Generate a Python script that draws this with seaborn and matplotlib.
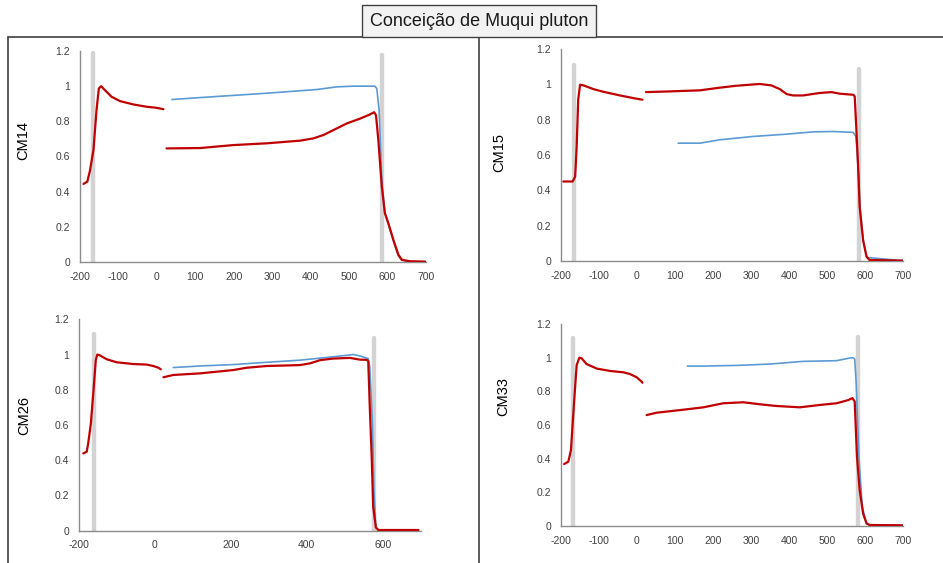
import matplotlib
matplotlib.use("Agg")
import matplotlib.pyplot as plt
import seaborn as sns
import numpy as np
from matplotlib.lines import Line2D

sns.set_theme(style="white")
plt.rcParams['font.family'] = ['Liberation Sans', 'DejaVu Sans']

RED = "#C00000"
BLUE = "#5B9BD5"
BAND = "#D3D3D3"

title = "Conceição de Muqui pluton"
panel_names = ["CM14", "CM15", "CM26", "CM33"]
y_ticks = [0, 0.2, 0.4, 0.6, 0.8, 1.0, 1.2]
y_ticklabels = ["0", "0.2", "0.4", "0.6", "0.8", "1", "1.2"]
x_ticks_100 = [-200, -100, 0, 100, 200, 300, 400, 500, 600, 700]
x_ticks_200 = [-200, 0, 200, 400, 600]

# ---- CM14 ----
cm14_redA_x = [-191, -181, -174, -165, -157, -151, -145, -135, -118, -96, -61, -27, -1, 17]
cm14_redA_y = [0.444, 0.457, 0.52, 0.637, 0.864, 0.987, 1.0, 0.977, 0.94, 0.915, 0.896, 0.883, 0.877, 0.869]
cm14_redB_x = [25, 112, 199, 286, 372, 407, 433, 459, 494, 528, 554, 565, 570, 576, 585, 593, 602, 615, 628, 637, 658, 698]
cm14_redB_y = [0.646, 0.648, 0.665, 0.675, 0.69, 0.703, 0.722, 0.75, 0.788, 0.815, 0.839, 0.852, 0.835, 0.694, 0.429, 0.278, 0.221, 0.127, 0.042, 0.013, 0.004, 0.002]
cm14_blue_x = [39, 112, 286, 416, 468, 511, 567, 572, 578, 585, 593, 602, 615, 628, 637, 658, 698]
cm14_blue_y = [0.924, 0.935, 0.96, 0.981, 0.996, 1.0, 1.0, 0.987, 0.864, 0.467, 0.28, 0.215, 0.12, 0.035, 0.01, 0.003, 0.002]
cm14_bands_x = [-165, 585]
cm14_bands_top = [1.19, 1.175]

# ---- CM15 ----
cm15_redA_x = [-193, -168.5, -162, -158, -154, -149, -140, -114, -88, -44, -9, 15]
cm15_redA_y = [0.45, 0.45, 0.478, 0.648, 0.913, 0.998, 0.994, 0.973, 0.958, 0.937, 0.922, 0.913]
cm15_redB_x = [24, 87, 166, 218, 262, 323, 354, 376, 394, 411, 437, 481, 512, 534, 569, 573, 577, 582, 586, 595, 604, 612, 700]
cm15_redB_y = [0.956, 0.96, 0.966, 0.981, 0.992, 1.002, 0.994, 0.973, 0.945, 0.937, 0.937, 0.951, 0.956, 0.947, 0.941, 0.932, 0.762, 0.535, 0.308, 0.119, 0.025, 0.006, 0.002]
cm15_blue_x = [109, 166, 218, 306, 394, 464, 516, 569, 576, 579, 583, 587, 596, 605, 700]
cm15_blue_y = [0.667, 0.667, 0.686, 0.705, 0.718, 0.731, 0.733, 0.728, 0.705, 0.63, 0.5, 0.3, 0.11, 0.02, 0.002]
cm15_bands_x = [-164, 583.5]
cm15_bands_top = [1.109, 1.087]

# ---- CM26 ----
cm26_redA_x = [-188, -179, -175, -168, -161, -155, -151, -144, -126, -100, -56, -21, -4, 10, 16]
cm26_redA_y = [0.439, 0.448, 0.495, 0.609, 0.798, 0.969, 1.0, 0.995, 0.973, 0.956, 0.946, 0.943, 0.935, 0.925, 0.916]
cm26_redB_x = [23, 49, 119, 207, 242, 295, 382, 409, 435, 469, 514, 540, 558, 562, 566, 571, 575, 582, 588, 694]
cm26_redB_y = [0.871, 0.884, 0.893, 0.912, 0.925, 0.935, 0.94, 0.95, 0.968, 0.977, 0.981, 0.971, 0.97, 0.962, 0.703, 0.42, 0.136, 0.019, 0.004, 0.004]
cm26_blue_x = [49, 119, 207, 295, 382, 469, 523, 540, 562, 566, 573, 577, 582, 590, 694]
cm26_blue_y = [0.926, 0.935, 0.943, 0.956, 0.968, 0.987, 1.0, 0.992, 0.977, 0.93, 0.608, 0.231, 0.019, 0.004, 0.004]
cm26_bands_x = [-160.5, 576]
cm26_bands_top = [1.117, 1.096]

# ---- CM33 ----
cm33_redA_x = [-191, -180, -173, -168.5, -162, -158, -151, -145, -132, -105, -70, -35, -18, 0, 13, 15]
cm33_redA_y = [0.368, 0.382, 0.451, 0.61, 0.828, 0.956, 1.0, 0.996, 0.962, 0.935, 0.921, 0.913, 0.903, 0.883, 0.857, 0.851]
cm33_redB_x = [26, 52, 131, 175, 227, 280, 324, 367, 429, 481, 525, 556, 567, 573, 579, 586, 595, 604, 612, 700]
cm33_redB_y = [0.659, 0.673, 0.693, 0.705, 0.729, 0.735, 0.723, 0.713, 0.705, 0.719, 0.729, 0.748, 0.76, 0.739, 0.412, 0.214, 0.075, 0.016, 0.006, 0.004]
cm33_blue_x = [133, 175, 262, 350, 437, 525, 560, 568, 573, 577, 584, 593, 604, 621, 700]
cm33_blue_y = [0.95, 0.95, 0.954, 0.962, 0.978, 0.982, 0.998, 1.0, 0.992, 0.847, 0.412, 0.115, 0.012, 0.004, 0.004]
cm33_bands_x = [-167.6, 581]
cm33_bands_top = [1.115, 1.125]

panels = [
    dict(name="CM14", redA=(cm14_redA_x, cm14_redA_y), redB=(cm14_redB_x, cm14_redB_y),
         blue=(cm14_blue_x, cm14_blue_y), bands=(cm14_bands_x, cm14_bands_top), xt=x_ticks_100,
         pos=[80/943, 1-262/563, 346/943, 211/563], lab=(-0.145, 0.578)),
    dict(name="CM15", redA=(cm15_redA_x, cm15_redA_y), redB=(cm15_redB_x, cm15_redB_y),
         blue=(cm15_blue_x, cm15_blue_y), bands=(cm15_bands_x, cm15_bands_top), xt=x_ticks_100,
         pos=[560.7/943, 1-261/563, 342.3/943, 212/563], lab=(-0.16, 0.514)),
    dict(name="CM26", redA=(cm26_redA_x, cm26_redA_y), redB=(cm26_redB_x, cm26_redB_y),
         blue=(cm26_blue_x, cm26_blue_y), bands=(cm26_bands_x, cm26_bands_top), xt=x_ticks_200,
         pos=[78.7/943, 1-530.7/563, 342/943, 211.4/563], lab=(-0.14, 0.547)),
    dict(name="CM33", redA=(cm33_redA_x, cm33_redA_y), redB=(cm33_redB_x, cm33_redB_y),
         blue=(cm33_blue_x, cm33_blue_y), bands=(cm33_bands_x, cm33_bands_top), xt=x_ticks_100,
         pos=[560.7/943, 1-526/563, 342.3/943, 202/563], lab=(-0.148, 0.64)),
]

fig = plt.figure(figsize=(9.43, 5.63), dpi=100)
fig.patch.set_facecolor("white")

for p in panels:
    ax = fig.add_axes(p["pos"])
    ax.set_facecolor("none")
    bx, bt = p["bands"]
    for xv, tv in zip(bx, bt):
        sns.lineplot(x=[xv, xv], y=[0, tv], ax=ax, color=BAND, linewidth=3.2,
                     sort=False, estimator=None, zorder=1)
    sns.lineplot(x=p["blue"][0], y=p["blue"][1], ax=ax, color=BLUE, linewidth=1.2,
                 sort=False, estimator=None, zorder=2)
    for key in ("redA", "redB"):
        sns.lineplot(x=p[key][0], y=p[key][1], ax=ax, color=RED, linewidth=1.6,
                     sort=False, estimator=None, zorder=3)
    ax.set_xlim(-200, 700)
    ax.set_ylim(0, 1.2)
    ax.set_xticks(p["xt"])
    ax.set_xticklabels([str(v) for v in p["xt"]])
    ax.set_yticks(y_ticks)
    ax.set_yticklabels(y_ticklabels)
    ax.tick_params(axis="both", length=0, labelsize=7.5, labelcolor="#404040")
    ax.tick_params(axis="x", pad=7)
    ax.tick_params(axis="y", pad=7)
    for s in ("top", "right"):
        ax.spines[s].set_visible(False)
    for s in ("left", "bottom"):
        ax.spines[s].set_color("#8c8c8c")
        ax.spines[s].set_linewidth(1.0)
    ax.set_xlabel("")
    ax.set_ylabel(p["name"], fontsize=10.5, color="black")
    ax.yaxis.set_label_coords(*p["lab"])
    ax.grid(False)

# frame lines
W, H = 943, 563
fig.add_artist(Line2D([8/W, 1.0], [1-37/H, 1-37/H], color="#404040", linewidth=1.2))
fig.add_artist(Line2D([8/W, 8/W], [0, 1-37/H], color="#404040", linewidth=1.2))
fig.add_artist(Line2D([479/W, 479/W], [0, 1-37/H], color="#404040", linewidth=1.2))

fig.text(479/W, 1-21/H, title, ha="center", va="center", fontsize=13, color="#1a1a1a",
         bbox=dict(boxstyle="square,pad=0.42", facecolor="#f2f2f2", edgecolor="#404040", linewidth=1.0))

fig.savefig("out.png", dpi=100)
